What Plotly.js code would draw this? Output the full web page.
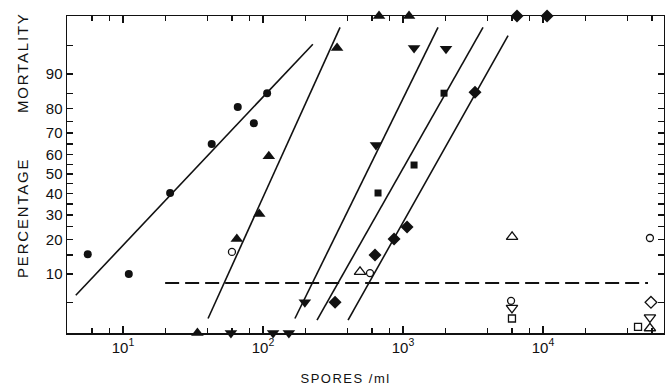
<!DOCTYPE html>
<html>
<head>
<meta charset="utf-8">
<script src="https://cdn.plot.ly/plotly-3.0.1.min.js"></script>
<style>
html,body{margin:0;padding:0;background:#fff;}
#chart{width:665px;height:392px;}
</style>
</head>
<body>
<div id="chart"></div>
<script>
// ---- data (spores/ml vs percentage mortality) ----
const circleX = [5.6, 11, 21.7, 43, 66, 86, 107];
const circleY = [15.2, 10, 40.4, 65, 80.5, 74.3, 85];
const triX = [34, 65, 94, 110, 338, 674, 1104];
const triY = [0, 20.2, 30.4, 59, 94.7, 100, 100];
const invTriX = [59, 118, 153, 199, 641, 1199, 2028];
const invTriY = [0, 0, 0, 5.0, 64.5, 94.7, 94.6];
const squareX = [663, 1199, 1963];
const squareY = [40.4, 54.6, 85];
const diamondX = [327, 631, 863, 1069, 3268, 6516, 10690];
const diamondY = [5.0, 15, 20.2, 24.9, 85.3, 100, 100];

const openCircleX = [60, 581, 5910, 58000];
const openCircleY = [15.9, 10.2, 5.2, 20.6];
const openTriX = [493, 6010, 58000];
const openTriY = [10.5, 21, 2.4];
const openInvTriX = [6000, 58000];
const openInvTriY = [4.3, 3.3];
const openSquareX = [6000, 47700];
const openSquareY = [3.2, 2.5];
const openDiamondX = [59000];
const openDiamondY = [5.0];

const fitCircleX = [4.6, 227];   const fitCircleY = [6.0, 95.2];
const fitTriX = [40.5, 355];     const fitTriY = [3.2, 97];
const fitInvTriX = [169, 1778];  const fitInvTriY = [3.2, 97];
const fitSquareX = [243, 3728];  const fitSquareY = [3.06, 97];
const fitDiamondX = [405, 5623]; const fitDiamondY = [3.06, 96.2];
const controlX = [20, 56200];    const controlY = [8.1, 8.1];

const yTickPct = [10,20,30,40,50,60,70,80,90];
const yTickText = ['10','20','30','40','50','60','70','80','90'];
const yMinorPct = [5,15,25,35,45,55,65,75,85,95];
const xTickVals = [10, 100, 1000, 10000];
const xTickText = ['10<sup>1</sup>','10<sup>2</sup>','10<sup>3</sup>','10<sup>4</sup>'];
const xMinorVals = [6,8,20,40,60,80,200,400,600,800,2000,4000,6000,8000,20000,40000,60000];

// ---- probit transform ----
const Y_MIN = -2.038, Y_MAX = 2.026;
function invNorm(p){
  const a=[-3.969683028665376e+01,2.209460984245205e+02,-2.759285104469687e+02,1.383577518672690e+02,-3.066479806614716e+01,2.506628277459239e+00];
  const b=[-5.447609879822406e+01,1.615858368580409e+02,-1.556989798598866e+02,6.680131188771972e+01,-1.328068155288572e+01];
  const c=[-7.784894002430293e-03,-3.223964580411365e-01,-2.400758277161838e+00,-2.549732539343734e+00,4.374664141464968e+00,2.938163982698783e+00];
  const d=[7.784695709041462e-03,3.224671290700398e-01,2.445134137142996e+00,3.754408661907416e+00];
  const pl=0.02425, ph=1-pl; let q,r;
  if(p<pl){q=Math.sqrt(-2*Math.log(p));return (((((c[0]*q+c[1])*q+c[2])*q+c[3])*q+c[4])*q+c[5])/((((d[0]*q+d[1])*q+d[2])*q+d[3])*q+1);}
  if(p<=ph){q=p-0.5;r=q*q;return (((((a[0]*r+a[1])*r+a[2])*r+a[3])*r+a[4])*r+a[5])*q/(((((b[0]*r+b[1])*r+b[2])*r+b[3])*r+b[4])*r+1);}
  q=Math.sqrt(-2*Math.log(1-p));return -(((((c[0]*q+c[1])*q+c[2])*q+c[3])*q+c[4])*q+c[5])/((((d[0]*q+d[1])*q+d[2])*q+d[3])*q+1);
}
function probit(pct){
  if(pct<=0) return Y_MIN;
  if(pct>=100) return Y_MAX;
  return Math.max(Y_MIN, Math.min(Y_MAX, invNorm(pct/100)));
}
const P = arr => arr.map(probit);

const K = '#111';
function pts(x,y,symbol,size){
  return {x:x,y:P(y),mode:'markers',type:'scatter',cliponaxis:false,
    marker:{symbol:symbol,size:size,color:K,line:{color:K,width:symbol.indexOf('open')>=0?1.3:0}}};
}
function ln(x,y,dash){
  return {x:x,y:P(y),mode:'lines',type:'scatter',line:{color:K,width:1.6,dash:dash||'solid'}};
}

const data = [
  ln(fitCircleX,fitCircleY), ln(fitTriX,fitTriY), ln(fitInvTriX,fitInvTriY),
  ln(fitSquareX,fitSquareY), ln(fitDiamondX,fitDiamondY),
  {x:controlX,y:P(controlY),mode:'lines',type:'scatter',line:{color:K,width:2,dash:'14px,6px'}},
  pts(circleX,circleY,'circle',8),
  pts(triX,triY,'triangle-up',11),
  pts(invTriX,invTriY,'triangle-down',11),
  pts(squareX,squareY,'square',7),
  pts(diamondX,diamondY,'diamond',10),
  pts(openCircleX,openCircleY,'circle-open',7),
  pts(openTriX,openTriY,'triangle-up-open',10),
  pts(openInvTriX,openInvTriY,'triangle-down-open',10),
  pts(openSquareX,openSquareY,'square-open',7),
  pts(openDiamondX,openDiamondY,'diamond-open',9)
];

const FONT = 'Liberation Sans, Arial, sans-serif';
const layout = {
  width:665, height:392,
  margin:{l:67, r:1, t:16, b:59},
  paper_bgcolor:'#fff', plot_bgcolor:'#fff',
  showlegend:false,
  font:{family:FONT, color:K, size:14},
  xaxis:{type:'log', range:[0.6,4.864], showgrid:false, zeroline:false,
    showline:true, linecolor:K, linewidth:1.5, mirror:'allticks',
    ticks:'inside', ticklen:7, tickwidth:1.3, tickcolor:K,
    tickmode:'array', tickvals:xTickVals, ticktext:xTickText,
    tickfont:{size:15, family:FONT},
    minor:{tickvals:xMinorVals, ticks:'inside', ticklen:5, tickwidth:1.2, tickcolor:K, showgrid:false}},
  yaxis:{range:[Y_MIN,Y_MAX], showgrid:false, zeroline:false,
    showline:true, linecolor:K, linewidth:1.5, mirror:'allticks',
    ticks:'inside', ticklen:6, tickwidth:1.3, tickcolor:K,
    tickmode:'array', tickvals:P(yTickPct), ticktext:yTickText,
    tickfont:{size:15, family:FONT},
    minor:{tickvals:P(yMinorPct), ticks:'inside', ticklen:6, tickwidth:1.3, tickcolor:K, showgrid:false}},
  annotations:[
    {text:'MORTALITY', xref:'paper', yref:'paper', x:-0.0737, y:0.852, textangle:-90,
     showarrow:false, font:{size:15, family:FONT}, xanchor:'center', yanchor:'middle'},
    {text:'PERCENTAGE', xref:'paper', yref:'paper', x:-0.0737, y:0.363, textangle:-90,
     showarrow:false, font:{size:15, family:FONT}, xanchor:'center', yanchor:'middle'},
    {text:'SPORES /ml', xref:'paper', yref:'paper', x:0.466, y:-0.145,
     showarrow:false, font:{size:13, family:FONT}, xanchor:'center', yanchor:'middle'}
  ]
};
Plotly.newPlot('chart', data, layout, {displayModeBar:false, staticPlot:true}).then(function(){
  // wider lettering like the original hand-lettered labels
  document.querySelectorAll('.annotation-text').forEach(function(t, i){
    t.style.letterSpacing = (i === 2) ? '1.5px' : '1.8px';
  });
});
</script>
</body>
</html>
